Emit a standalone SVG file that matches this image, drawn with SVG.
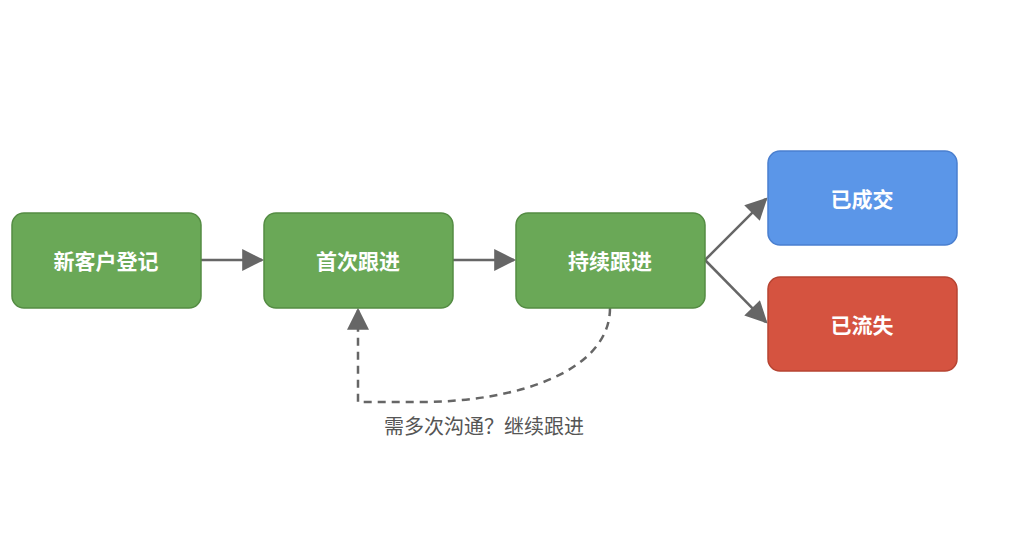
<svg xmlns="http://www.w3.org/2000/svg" width="1024" height="553" viewBox="0 0 1024 553">
<style>
.n rect{stroke-width:1.5}
.g rect{fill:#6aa857;stroke:#548c43}
.t{font-family:"Noto Sans CJK SC",sans-serif;font-weight:bold;font-size:21px;fill:#fff;text-anchor:middle;dominant-baseline:central}
.e{stroke:#666;stroke-width:2.5;fill:none}
.lbl{font-family:"Noto Sans CJK SC",sans-serif;font-size:20px;fill:#555;text-anchor:middle}
</style>
<defs><marker id="a" viewBox="0 0 10 10" refX="9" refY="5" markerWidth="10" markerHeight="10" markerUnits="userSpaceOnUse" orient="auto"><path d="M0,0L10,5L0,10z" fill="#666" transform="scale(1)"/></marker>
<marker id="b" viewBox="0 0 10 10" refX="9" refY="5" markerWidth="24" markerHeight="22" markerUnits="userSpaceOnUse" orient="auto"><path d="M0,0L10,5L0,10z" fill="#666"/></marker></defs>
<rect width="1024" height="553" fill="#fff"/>
<g id="edges">
<path class="e" d="M201,260H262" marker-end="url(#b)"/>
<path class="e" d="M453,260H514" marker-end="url(#b)"/>
<path class="e" d="M705,260L766,199" marker-end="url(#b)"/>
<path class="e" d="M705,260L766,322" marker-end="url(#b)"/>
<path class="e" stroke-dasharray="8,6" d="M610,308C610,370 520,402 420,402H358V310" marker-end="url(#b)"/>
<text class="lbl" x="484" y="434">需多次沟通？继续跟进</text>
</g>
<g id="n1" class="n g"><rect x="12" y="213" width="189" height="95" rx="12"/><text class="t" x="106" y="260">新客户登记</text></g>
<g id="n2" class="n g"><rect x="264" y="213" width="189" height="95" rx="12"/><text class="t" x="358" y="260">首次跟进</text></g>
<g id="n3" class="n g"><rect x="516" y="213" width="189" height="95" rx="12"/><text class="t" x="610" y="260">持续跟进</text></g>
<g id="n4" class="n"><rect x="768" y="151" width="189" height="94" rx="12" fill="#5b96e8" stroke="#4a7fcf"/><text class="t" x="862" y="198">已成交</text></g>
<g id="n5" class="n"><rect x="768" y="277" width="189" height="94" rx="12" fill="#d55340" stroke="#b74432"/><text class="t" x="862" y="324">已流失</text></g>
</svg>
